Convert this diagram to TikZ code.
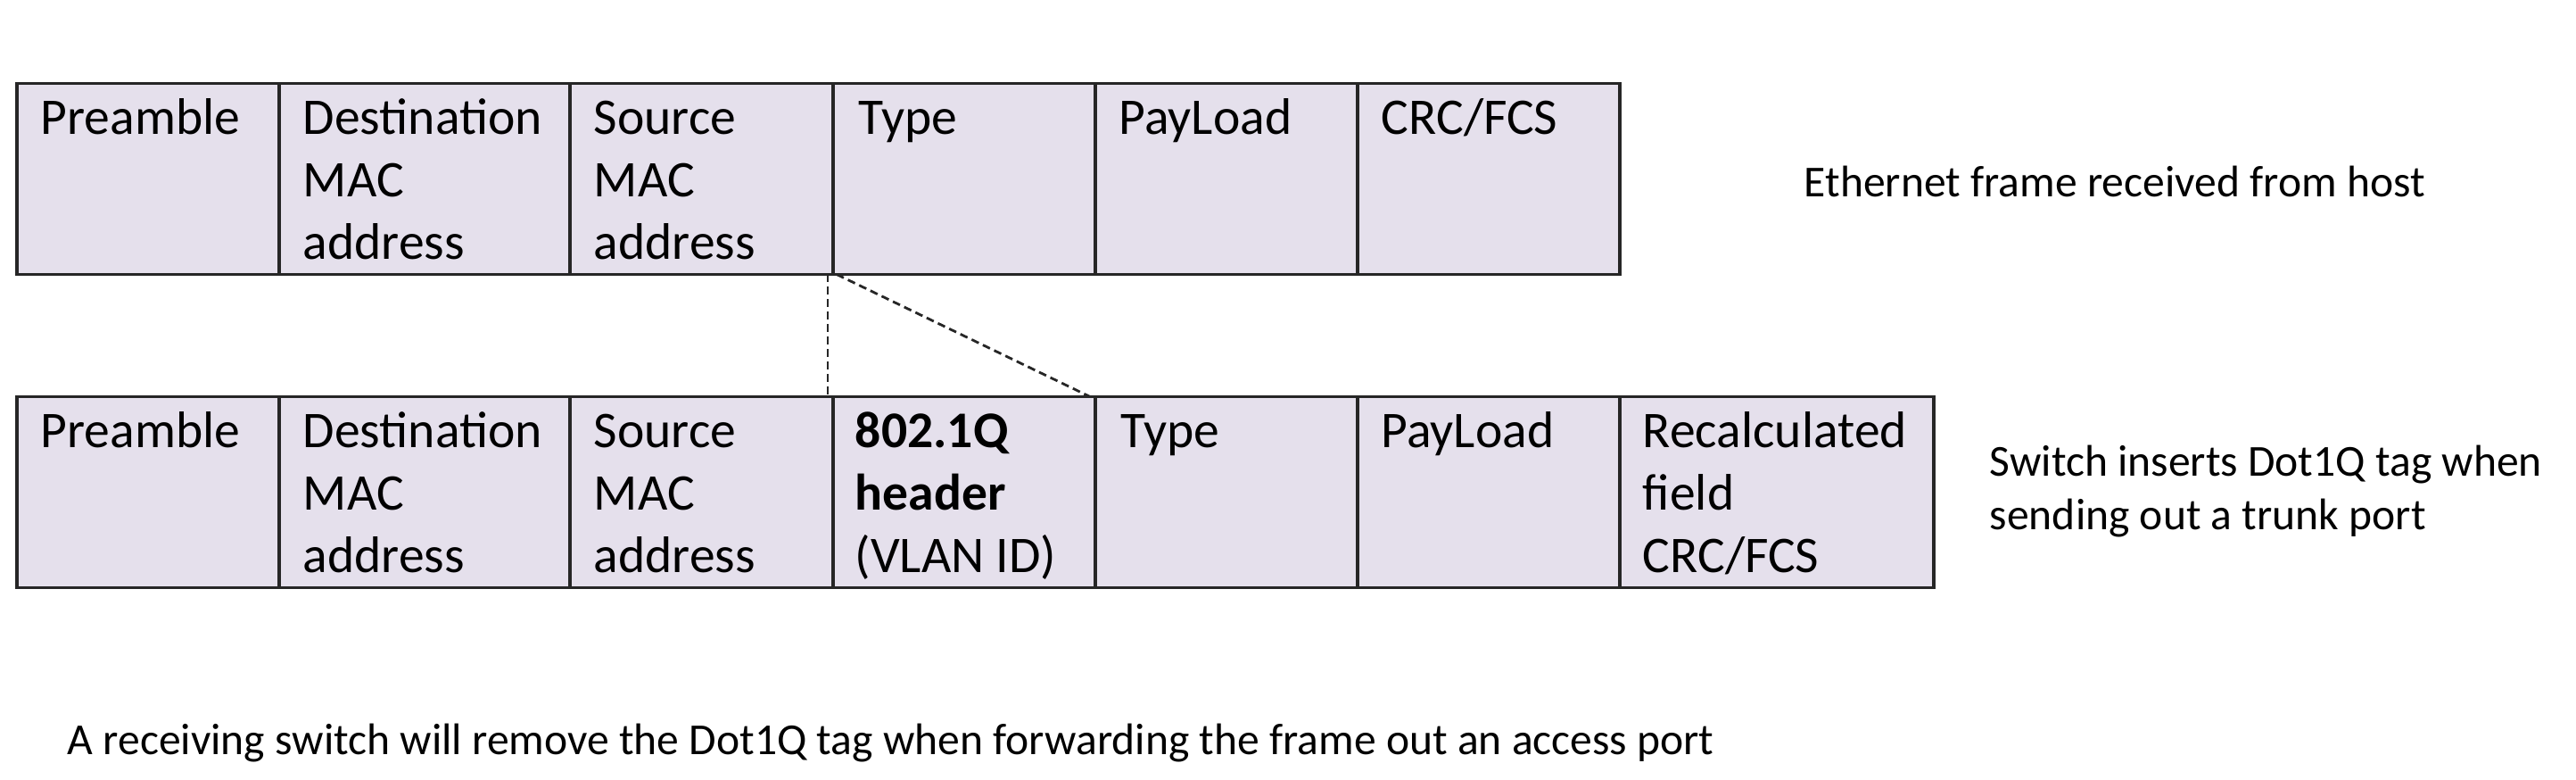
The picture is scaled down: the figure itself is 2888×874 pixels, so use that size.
\documentclass[tikz,border=0pt]{standalone}
\usepackage{fontspec}
\setmainfont{Carlito}
\definecolor{cellfill}{HTML}{E5E0EC}
\definecolor{linecol}{HTML}{262626}
\tikzset{
  cell/.style={rectangle, draw=linecol, fill=cellfill, line width=0.8pt, inner sep=0pt, outer sep=0pt, anchor=north west, minimum height=53.5pt},
  lbl/.style={anchor=north west, inner sep=0pt, align=left, font=\fontsize{14.4pt}{17.5pt}\selectfont, text=black},
  side/.style={anchor=base west, inner sep=0pt, align=left, font=\fontsize{12.4pt}{15pt}\selectfont, text=black},
  guide/.style={draw=linecol, line width=0.7pt, dash pattern=on 2.2pt off 1.3pt}
}
\newcommand{\firstline}{\rule{0pt}{14.1pt}}
\begin{document}
\begin{tikzpicture}[x=0.25pt, y=-0.25pt]
\useasboundingbox (0,0) rectangle (2888,874);
% top frame
\node[cell, minimum width=73.5pt]  (t1) at (19,93.5) {};
\node[cell, minimum width=81.5pt]  (t2) at (313,93.5) {};
\node[cell, minimum width=73.75pt] (t3) at (639,93.5) {};
\node[cell, minimum width=73.5pt]  (t4) at (934,93.5) {};
\node[cell, minimum width=73.5pt]  (t5) at (1228,93.5) {};
\node[cell, minimum width=73.5pt]  (t6) at (1522,93.5) {};
% bottom frame
\node[cell, minimum width=73.5pt,  minimum height=53.5pt] (b1) at (19,444.5) {};
\node[cell, minimum width=81.5pt,  minimum height=53.5pt] (b2) at (313,444.5) {};
\node[cell, minimum width=73.75pt, minimum height=53.5pt] (b3) at (639,444.5) {};
\node[cell, minimum width=73.5pt,  minimum height=53.5pt] (b4) at (934,444.5) {};
\node[cell, minimum width=73.5pt,  minimum height=53.5pt] (b5) at (1228,444.5) {};
\node[cell, minimum width=73.5pt,  minimum height=53.5pt] (b6) at (1522,444.5) {};
\node[cell, minimum width=88pt,    minimum height=53.5pt] (b7) at (1816,444.5) {};
% top labels
\node[lbl] (t1l) at ([shift={(26,0)}]t1.north west) {\firstline Preamble};
\node[lbl] (t2l) at ([shift={(26,0)}]t2.north west) {\firstline Destination\\MAC\\address};
\node[lbl] (t3l) at ([shift={(26,0)}]t3.north west) {\firstline Source\\MAC\\address};
\node[lbl] (t4l) at ([shift={(28,0)}]t4.north west) {\firstline Type};
\node[lbl] (t5l) at ([shift={(26,0)}]t5.north west) {\firstline PayLoad};
\node[lbl] (t6l) at ([shift={(26,0)}]t6.north west) {\firstline CRC/FCS};
% bottom labels
\node[lbl] (b1l) at ([shift={(26,0)}]b1.north west) {\firstline Preamble};
\node[lbl] (b2l) at ([shift={(26,0)}]b2.north west) {\firstline Destination\\MAC\\address};
\node[lbl] (b3l) at ([shift={(26,0)}]b3.north west) {\firstline Source\\MAC\\address};
\node[lbl] (b4l) at ([shift={(24,0)}]b4.north west) {\firstline\textbf{802.1Q}\\\textbf{header}\\(VLAN ID)};
\node[lbl] (b5l) at ([shift={(28,0)}]b5.north west) {\firstline Type};
\node[lbl] (b6l) at ([shift={(26,0)}]b6.north west) {\firstline PayLoad};
\node[lbl] (b7l) at ([shift={(25,0)}]b7.north west) {\firstline Recalculated\\field\\CRC/FCS};
% dashed guides
\draw[guide] ([xshift=-1.5pt]t4.south west) -- ([xshift=-1.5pt]b4.north west);
\draw[guide] ([xshift=1pt]t4.south west) -- ([xshift=-1.5pt]b5.north west);
% side texts
\node[side] (eth) at (2022,221) {Ethernet frame received from host};
\node[side, anchor=north west] (sw) at (2230,493) {\rule{0pt}{10pt}Switch inserts Dot1Q tag when\\sending out a trunk port};
\node[side] (note) at (75,846) {A receiving switch will remove the Dot1Q tag when forwarding the frame out an access port};
\end{tikzpicture}
\end{document}
